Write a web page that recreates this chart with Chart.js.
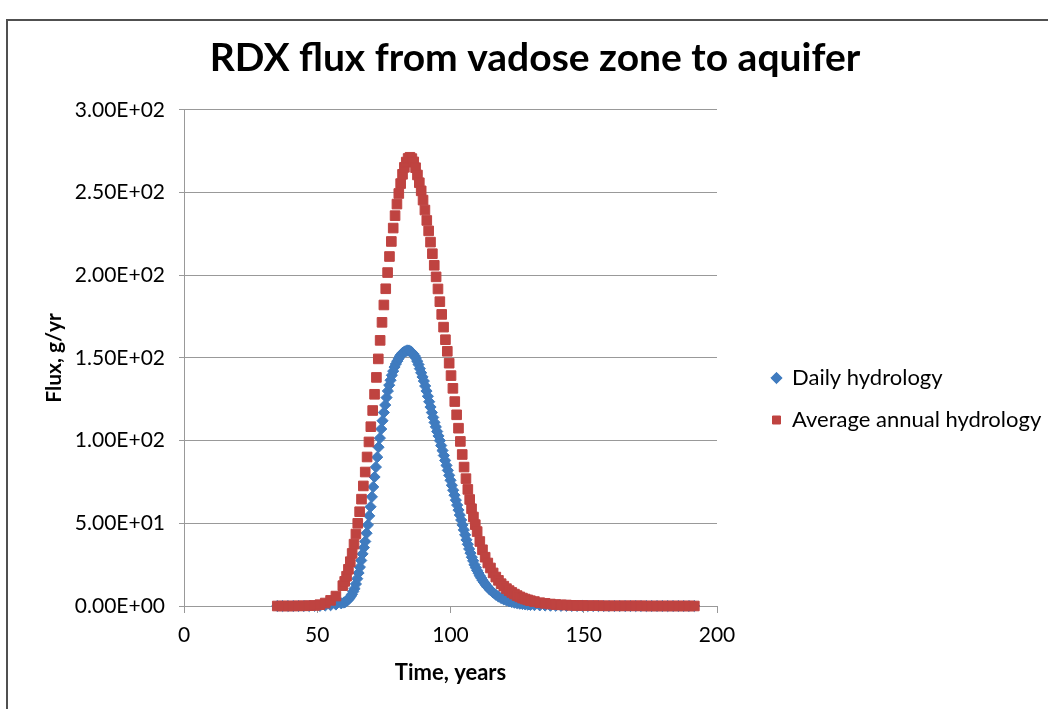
<!DOCTYPE html>
<html>
<head>
<meta charset="utf-8">
<title>RDX flux from vadose zone to aquifer</title>
<script src="https://cdn.jsdelivr.net/npm/chart.js@4"></script>
<style>
  body { margin: 0; background: #fff; }
  canvas { display: block; }
</style>
</head>
<body>
<canvas id="myChart" width="1048" height="709"></canvas>
<script>
// series names
var seriesNames = ["Daily hydrology", "Average annual hydrology"];

// Daily hydrology (blue diamonds), time in years / flux in g/yr
var blueTimes = [35, 37, 39, 41, 43, 45, 47, 49, 51, 53, 55, 57, 59,
  60, 60.5, 61, 61.5, 62, 62.5, 63, 63.5, 64, 64.5, 65, 65.5, 66, 66.5, 67, 67.5, 68, 68.5, 69, 69.5,
  70, 70.5, 71, 71.5, 72, 72.5, 73, 73.5, 74, 74.5, 75, 75.5, 76, 76.5, 77, 77.5, 78, 78.5, 79, 79.5,
  80, 80.5, 81, 81.5, 82, 82.5, 83, 83.5, 84, 84.5, 85, 85.5, 86, 86.5, 87, 87.5, 88, 88.5, 89, 89.5,
  90, 90.5, 91, 91.5, 92, 92.5, 93, 93.5, 94, 94.5, 95, 95.5, 96, 96.5, 97, 97.5, 98, 98.5, 99, 99.5,
  100, 100.5, 101, 101.5, 102, 102.5, 103, 103.5, 104, 104.5, 105, 105.5, 106, 106.5, 107, 107.5, 108, 108.5, 109, 109.5,
  110, 110.5, 111, 111.5, 112, 112.5, 113, 113.5, 114, 114.5, 115,
  116, 117, 118, 119, 120, 121, 122, 123, 124, 125, 126, 127, 128, 129, 130,
  131.5, 133.5, 135.5, 137.5, 139.5, 141.5, 143.5, 145.5, 147.5, 149.5, 151.5, 153.5, 155.5, 157.5, 159.5,
  161.5, 163.5, 165.5, 167.5, 169.5, 171.5, 173.5, 175.5, 177.5, 179.5, 181.5, 183.5, 185.5, 187.5, 189.5, 191.5];
var blueFlux = [0, 0, 0, 0, 0, 0, 0, 0.1, 0.1, 0.3, 0.5, 0.9, 1.6,
  2.1, 2.5, 3, 3.7, 4.5, 5.7, 7, 8.7, 10.5, 13.3, 16.5, 20, 23.5, 27.5, 31.5, 35.3, 39, 44, 49, 54.5,
  60, 66, 72, 78, 84, 90, 96, 101.5, 107, 112, 117, 121.5, 126, 130, 133.5, 136.5, 139.5, 142, 144.5, 146.3,
  148, 149.5, 151, 152, 153, 153.5, 154, 154.3, 154.5, 154.3, 154, 153.3, 152.5, 151.3, 150, 148, 146, 143.5, 141, 138.5,
  136, 133, 130, 126.8, 123.5, 120.3, 117, 114, 111, 108.3, 105.5, 102.8, 100, 97, 94, 91, 88, 85, 82, 79,
  76, 73, 70, 67, 64, 61, 58, 55, 52, 49, 46, 43, 40, 37.3, 34.5, 32, 29.5, 27.3, 25, 23.2,
  21.5, 19.9, 18.3, 17, 15.6, 14.4, 13.3, 12.3, 11.3, 10.4, 9.6,
  8.1, 6.8, 5.7, 4.8, 4, 3.4, 2.8, 2.4, 2, 1.7, 1.4, 1.2, 1, 0.85, 0.7,
  0.55, 0.4, 0.3, 0.2, 0.15, 0.1, 0.1, 0.05, 0.05, 0.05, 0, 0, 0, 0, 0,
  0, 0, 0, 0, 0, 0, 0, 0, 0, 0, 0, 0, 0, 0, 0, 0];

// Average annual hydrology (red squares)
var redTimes = [35, 37, 39, 41, 43, 45, 47, 49, 51, 53, 55, 57,
  59.6, 60.3, 61.0, 61.7, 62.4, 63.1, 63.8, 64.5, 65.2, 65.9, 66.6, 67.3, 68.0, 68.7, 69.4,
  70.1, 70.8, 71.5, 72.2, 72.9, 73.6, 74.3, 75.0, 75.7, 76.4, 77.1, 77.8, 78.5, 79.2, 79.9,
  80.6, 81.3, 82.0, 82.7, 83.4, 84.1, 84.8, 85.5, 86.2, 86.9, 87.6, 88.3, 89.0, 89.7,
  90.4, 91.1, 91.8, 92.5, 93.2, 93.9, 94.6, 95.3, 96.0, 96.7, 97.4, 98.1, 98.8, 99.5,
  100.2, 100.9, 101.6, 102.3, 103.0, 103.7, 104.4, 105.1, 105.8, 106.5, 107.2, 107.9, 108.6, 109.3, 110.0,
  111, 112, 113, 114, 115, 116, 117, 118, 119, 120, 121, 122, 123, 124, 125, 126, 127, 128, 129, 130,
  131.5, 133.5, 135.5, 137.5, 139.5, 141.5, 143.5, 145.5, 147.5, 149.5, 151.5, 153.5, 155.5, 157.5, 159.5,
  161.5, 163.5, 165.5, 167.5, 169.5, 171.5, 173.5, 175.5, 177.5, 179.5, 181.5, 183.5, 185.5, 187.5, 189.5, 191.5];
var redFlux = [0, 0, 0, 0, 0.1, 0.1, 0.2, 0.3, 0.8, 1.8, 3.4, 6,
  12.3, 14.9, 18, 22.2, 26.8, 31.8, 37.4, 43.5, 50, 57, 64.6, 72.6, 81, 90.1, 99.2,
  108.4, 118.2, 128, 138.2, 149.4, 160.6, 171.5, 182, 191.8, 201.6, 211.3, 220.4, 228.5, 236, 243,
  249.4, 255.4, 261, 265.2, 268.4, 270.6, 271.3, 270.5, 268.5, 265, 260.6, 255.9, 251, 245.4,
  239.4, 233.1, 226.8, 220, 213, 206, 199, 191.7, 184, 176.3, 168.6, 161, 154, 146.8,
  139.3, 131.6, 123.6, 115.6, 107.5, 99.5, 91.6, 84, 77, 70.5, 64.4, 58.8, 53.8, 49.2, 45,
  39, 34, 29.5, 26, 23, 20, 17.5, 15.5, 13.5, 12, 10.5, 9.3, 8.2, 7.2, 6.3, 5.5, 4.8, 4.2, 3.7, 3.2,
  2.7, 2.0, 1.6, 1.2, 0.9, 0.7, 0.6, 0.4, 0.3, 0.3, 0.2, 0.2, 0.2, 0.1, 0.1,
  0.1, 0.1, 0.1, 0.1, 0.1, 0.1, 0, 0, 0, 0, 0, 0, 0, 0, 0, 0];

// tick labels
var xTickLabels = ["0", "50", "100", "150", "200"];
var yTickLabels = ["0.00E+00", "5.00E+01", "1.00E+02", "1.50E+02", "2.00E+02", "2.50E+02", "3.00E+02"];

var blueColor = "#3f7bbf";
var redColor = "#bf4340";
var gridColor = "#999999";

Chart.defaults.font.family = "Lato, 'Liberation Sans', sans-serif";
Chart.defaults.color = "#000";

function toPoints(times, vals) {
  return times.map(function (t, i) { return { x: t, y: vals[i] }; });
}

// white background + outer frame of the excel chart box
var framePlugin = {
  id: "frame",
  beforeDraw: function (chart) {
    var c = chart.ctx;
    c.save();
    c.fillStyle = "#fff";
    c.fillRect(0, 0, chart.width, chart.height);
    c.strokeStyle = "#505050";
    c.lineWidth = 2;
    c.beginPath();
    c.moveTo(7, chart.height);
    c.lineTo(7, 20);
    c.lineTo(chart.width, 20);
    c.stroke();
    c.restore();
  }
};

// put the legend to the right of the plot like excel does
var legendPlace = {
  id: "legendPlace",
  afterLayout: function (chart) {
    var lg = chart.legend;
    var w = lg.width, h = lg.height;
    lg.left = 752; lg.right = 752 + w;
    lg.top = 347; lg.bottom = 347 + h;
  }
};

new Chart("myChart", {
  type: "scatter",
  data: {
    datasets: [{
      label: seriesNames[0],
      data: toPoints(blueTimes, blueFlux),
      pointStyle: "rectRot",
      pointRadius: 5.6,
      borderWidth: 1,
      backgroundColor: blueColor,
      borderColor: blueColor,
      order: 1,
      clip: false
    }, {
      label: seriesNames[1],
      data: toPoints(redTimes, redFlux),
      pointStyle: "rect",
      pointRadius: 6.8,
      borderWidth: 1,
      backgroundColor: redColor,
      borderColor: redColor,
      order: 0,
      clip: false
    }]
  },
  options: {
    responsive: false,
    animation: false,
    events: [],
    layout: { padding: { top: 18, left: 22, right: 0, bottom: 0 } },
    plugins: {
      tooltip: { enabled: false },
      title: {
        display: true,
        text: "RDX flux from vadose zone to aquifer",
        font: { size: 39, weight: "bold" },
        color: "#000",
        padding: { top: 17, bottom: 28 }
      },
      legend: {
        position: "chartArea",
        align: "start",
        labels: {
          usePointStyle: true,
          boxWidth: 9,
          boxHeight: 8,
          padding: 20,
          font: { size: 22 },
          color: "#000",
          sort: function (a, b) { return a.datasetIndex - b.datasetIndex; }
        }
      }
    },
    scales: {
      x: {
        type: "linear",
        min: 0,
        max: 200,
        grid: { display: true, drawOnChartArea: false, drawTicks: true, tickLength: 7, color: gridColor },
        border: { display: true, color: gridColor },
        ticks: {
          stepSize: 50,
          padding: 10,
          font: { size: 21 },
          color: "#000",
          callback: function (v, i) { return xTickLabels[i]; }
        },
        title: {
          display: true,
          text: "Time, years",
          font: { size: 22, weight: "bold" },
          padding: { top: 0, bottom: 23 }
        },
        afterFit: function (s) { s.height = 103; }
      },
      y: {
        min: 0,
        max: 300,
        grid: { color: gridColor, tickLength: 5 },
        border: { display: true, color: gridColor },
        ticks: {
          stepSize: 50,
          padding: 14,
          font: { size: 21 },
          color: "#000",
          callback: function (v, i) { return yTickLabels[i]; }
        },
        title: {
          display: true,
          text: "Flux, g/yr",
          font: { size: 21, weight: "bold" },
          padding: { top: 20, bottom: 0 }
        },
        afterFit: function (s) { s.width = 162; }
      },
      // empty box on the right that keeps room for the legend
      yRoom: {
        position: "right",
        display: true,
        min: 0,
        max: 1,
        grid: { display: false, drawTicks: false },
        border: { display: false },
        ticks: { display: false },
        afterFit: function (s) { s.width = 331; }
      }
    }
  },
  plugins: [framePlugin, legendPlace]
});
</script>
</body>
</html>
